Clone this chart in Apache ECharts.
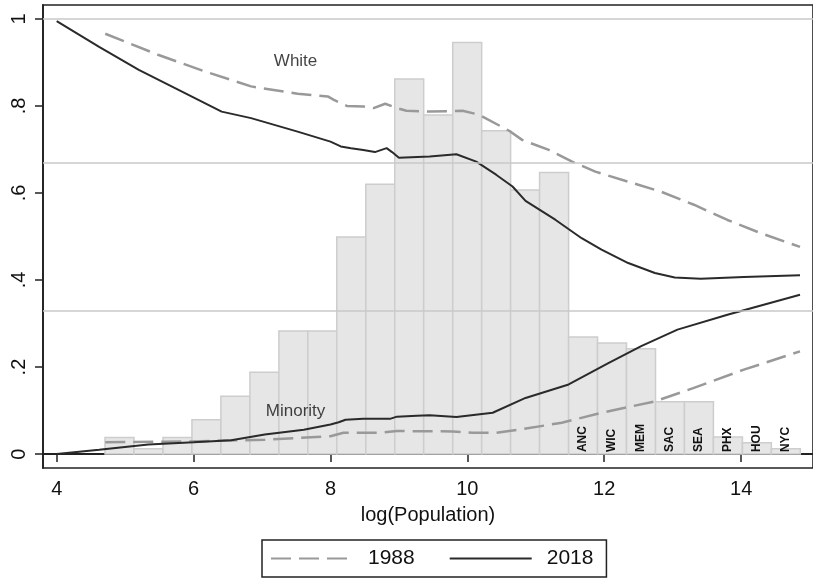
<!DOCTYPE html>
<html>
<head>
<meta charset="utf-8">
<script src="https://cdn.jsdelivr.net/npm/echarts@6/dist/echarts.min.js"></script>
<style>html,body{margin:0;padding:0;background:#fff;}#c{width:813px;height:581px;}</style>
</head>
<body>
<div id="c"></div>
<script>
// ---- data ----
var binStarts = [4.706,5.129,5.553,5.976,6.399,6.823,7.246,7.669,8.092,8.516,8.939,9.362,9.786,10.209,10.632,11.055,11.479,11.902,12.325,12.749,13.172,13.595,14.019,14.442];
var binEnds   = [5.129,5.553,5.976,6.399,6.823,7.246,7.669,8.092,8.516,8.939,9.362,9.786,10.209,10.632,11.055,11.479,11.902,12.325,12.749,13.172,13.595,14.019,14.442,14.865];
var binHeights = [0.038,0.012,0.038,0.079,0.133,0.188,0.283,0.283,0.499,0.620,0.862,0.779,0.946,0.743,0.607,0.647,0.269,0.255,0.242,0.120,0.120,0.039,0.026,0.012];
var binCities = ['','','','','','','','','','','','','','','','','ANC','WIC','MEM','SAC','SEA','PHX','HOU','NYC'];

var white2018 = [[4.0,0.995],[4.62,0.936],[5.2,0.883],[5.78,0.837],[6.41,0.787],[6.84,0.772],[7.52,0.741],[8.0,0.718],[8.15,0.707],[8.3,0.703],[8.48,0.699],[8.65,0.694],[8.82,0.703],[8.9,0.694],[9.0,0.681],[9.45,0.684],[9.84,0.689],[10.13,0.672],[10.42,0.642],[10.66,0.615],[10.85,0.582],[11.29,0.538],[11.67,0.496],[11.96,0.470],[12.35,0.439],[12.74,0.416],[13.03,0.406],[13.41,0.403],[14.04,0.407],[14.86,0.411]];
var white1988 = [[4.71,0.966],[5.49,0.917],[6.17,0.879],[6.84,0.845],[7.52,0.828],[7.96,0.822],[8.05,0.814],[8.24,0.800],[8.48,0.799],[8.63,0.795],[8.80,0.805],[8.97,0.795],[9.11,0.789],[9.45,0.787],[9.93,0.789],[10.17,0.780],[10.61,0.743],[10.80,0.722],[11.19,0.699],[11.53,0.672],[11.87,0.649],[12.35,0.626],[12.83,0.603],[13.31,0.573],[13.80,0.538],[14.28,0.508],[14.86,0.476]];
var minority2018 = [[4.0,0.0],[4.62,0.010],[5.34,0.022],[6.0,0.027],[6.55,0.032],[7.04,0.045],[7.61,0.056],[8.0,0.068],[8.12,0.073],[8.22,0.079],[8.48,0.081],[8.87,0.081],[8.97,0.086],[9.26,0.088],[9.45,0.089],[9.84,0.085],[10.37,0.095],[10.85,0.129],[11.48,0.160],[12.06,0.209],[12.54,0.248],[13.07,0.286],[13.80,0.320],[14.86,0.366]];
var minority1988 = [[4.71,0.027],[5.97,0.029],[7.04,0.033],[8.0,0.041],[8.19,0.049],[8.73,0.049],[8.97,0.053],[9.79,0.052],[10.08,0.049],[10.42,0.049],[10.75,0.056],[11.38,0.072],[11.96,0.095],[12.74,0.121],[13.31,0.152],[14.04,0.194],[14.86,0.236]];

var refLines = [1/3, 2/3, 1];
var xTicks = [4,6,8,10,12,14];
var yTicks = [0,0.2,0.4,0.6,0.8,1];
var yTickLabels = ['0','.2','.4','.6','.8','1'];
var groupLabels = [{name:'White', value:[7.49,0.902]},{name:'Minority', value:[7.49,0.098]}];
var legendNames = ['1988','2018'];

// ---- chart ----
var FONT = '"Liberation Sans", Arial, Helvetica, sans-serif';
var histData = binStarts.map(function(s,i){ return [s, binEnds[i], binHeights[i]]; });

var chart = echarts.init(document.getElementById('c'), null, {renderer:'canvas'});
var option = {
  backgroundColor:'#fff',
  animation:false,
  textStyle:{fontFamily:FONT},
  grid:{left:43, right:-7, top:5, bottom:113, show:true, borderColor:'#222', borderWidth:1.6, backgroundColor:'transparent', containLabel:false},
  legend:{
    data:legendNames, left:262, top:540, orient:'horizontal',
    itemWidth:82, itemHeight:14, itemGap:34,
    padding:[8,13,8,8], borderColor:'#222', borderWidth:1.5,
    itemStyle:{opacity:0, borderWidth:0},
    textStyle:{fontSize:21, color:'#111', fontFamily:FONT, padding:[0,0,0,10]}
  },
  xAxis:{
    type:'value', min:3.8, max:15.05,
    name:'log(Population)', nameLocation:'middle', nameGap:37,
    nameTextStyle:{fontSize:20, color:'#111', fontFamily:FONT},
    axisLine:{show:true, lineStyle:{color:'#222', width:1.8}},
    axisTick:{show:true, customValues:xTicks, length:8, lineStyle:{color:'#222', width:1.5}},
    axisLabel:{customValues:xTicks, fontSize:20, color:'#111', margin:11, fontFamily:FONT},
    splitLine:{show:false}
  },
  yAxis:{
    type:'value', min:-0.032, max:1.032,
    axisLine:{show:true, lineStyle:{color:'#222', width:1.8}},
    axisTick:{show:true, customValues:yTicks, length:8, lineStyle:{color:'#222', width:1.5}},
    axisLabel:{customValues:yTicks, rotate:90, fontSize:20, color:'#111', margin:14, fontFamily:FONT,
      formatter:function(v){ for (var i=0;i<yTicks.length;i++){ if (Math.abs(v-yTicks[i])<1e-6) return yTickLabels[i]; } return ''; }},
    splitLine:{show:false}
  },
  series:[
    {
      type:'custom', name:'hist', z:1, silent:true,
      data:histData,
      encode:{x:[0,1], y:2},
      renderItem:function(params, api){
        var i = params.dataIndex;
        var p0 = api.coord([api.value(0), api.value(2)]);
        var p1 = api.coord([api.value(1), 0]);
        var children = [{
          type:'rect',
          shape:{x:p0[0], y:p0[1], width:p1[0]-p0[0], height:p1[1]-p0[1]},
          style:{fill:'#e6e6e6', stroke:'#cdcdcd', lineWidth:1.5}
        }];
        var lab = binCities[i];
        if (lab) {
          children.push({
            type:'text', x:(p0[0]+p1[0])/2, y:p1[1]-2, rotation:Math.PI/2,
            style:{text:lab, font:'bold 12px '+FONT, fill:'#111', align:'left', verticalAlign:'middle'}
          });
        }
        return {type:'group', children:children};
      }
    },
    {
      type:'line', name:'ref', z:2, data:[], silent:true,
      markLine:{silent:true, symbol:['none','none'], label:{show:false},
        lineStyle:{color:'#c8c8c8', width:1.5, type:'solid'},
        data:refLines.map(function(v){ return {yAxis:v}; })}
    },
    {type:'line', name:'1988', z:3, data:white1988, showSymbol:false, symbol:'none',
      lineStyle:{color:'#999', width:2.5, type:[20,8]}, itemStyle:{color:'#999'}},
    {type:'line', name:'2018', z:4, data:white2018, showSymbol:false, symbol:'none',
      lineStyle:{color:'#2a2a2a', width:2}, itemStyle:{color:'#2a2a2a'}},
    {type:'line', name:'1988', z:3, data:minority1988, showSymbol:false, symbol:'none',
      lineStyle:{color:'#999', width:2.5, type:[20,8]}, itemStyle:{color:'#999'}},
    {type:'line', name:'2018', z:4, data:minority2018, showSymbol:false, symbol:'none',
      lineStyle:{color:'#2a2a2a', width:2}, itemStyle:{color:'#2a2a2a'}},
    {type:'scatter', name:'labels', z:5, silent:true, symbolSize:0, data:groupLabels,
      label:{show:true, position:'inside', formatter:'{b}', fontSize:17, color:'#111', fontFamily:FONT}}
  ]
};
chart.setOption(option);
</script>
</body>
</html>
